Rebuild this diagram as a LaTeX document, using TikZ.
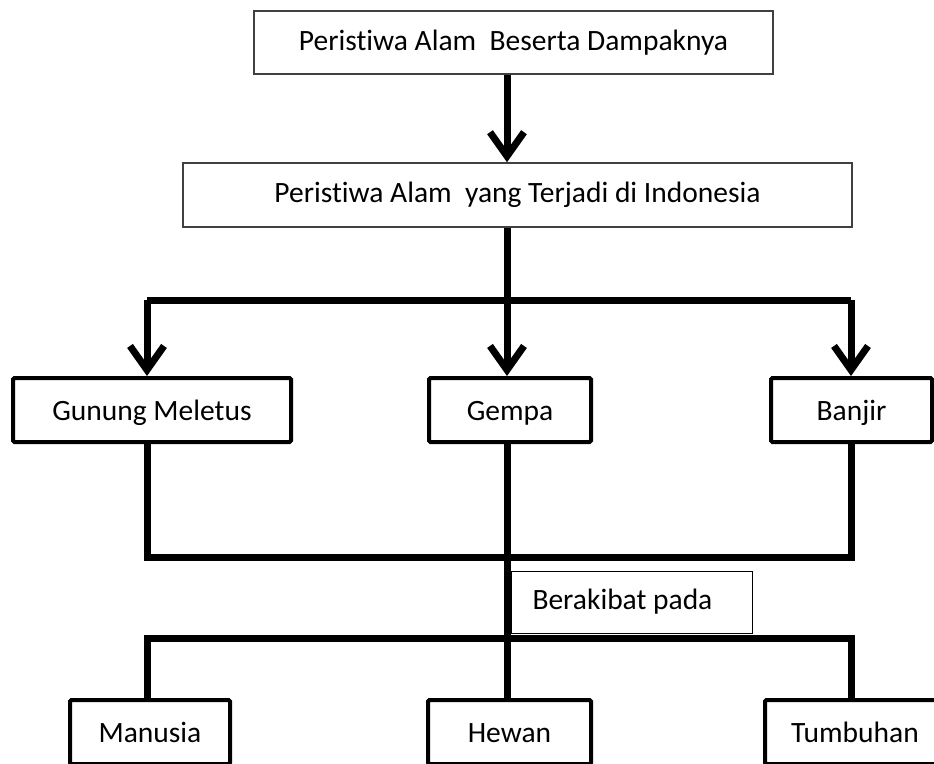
\documentclass[tikz,border=0pt]{standalone}
\usepackage{fontspec}
\setmainfont{Carlito}[Ligatures=NoCommon]
\usetikzlibrary{arrows.meta}

\begin{document}
\begin{tikzpicture}[x=1pt,y=-1pt,
  every node/.style={font=\fontsize{29.5}{34}\selectfont,text height=20pt,text depth=5pt},
  topbox/.style={draw=black!75,line width=1.5pt,fill=white,minimum height=63pt},
  kind/.style={draw,line width=4pt,rounded corners=1.5pt,fill=white,minimum height=64pt,text height=22pt,text depth=2pt},
  note/.style={draw,line width=1pt,fill=white,minimum height=62pt,text depth=6pt},
  conn/.style={line width=7pt},
  tip/.style={-{Straight Barb[length=24pt,width=34pt]}}]
\useasboundingbox (0,0) rectangle (934,763);
\clip (0,0) rectangle (934,763);

% junction points
\coordinate (jl) at (147,300);
\coordinate (jc) at (507,300);
\coordinate (jr) at (851,300);
\coordinate (kl) at (147,557);
\coordinate (kr) at (851,557);
\coordinate (ml) at (147,638);
\coordinate (mr) at (851,638);

\node[topbox,minimum width=519pt] (T) at (513.5,42.5) {Peristiwa Alam~ Beserta Dampaknya};
\node[topbox,minimum width=669pt,minimum height=64pt] (I) at (517.5,195) {Peristiwa Alam~ yang Terjadi di Indonesia};

\node[kind,minimum width=278pt] (G) at (152,410) {Gunung Meletus};
\node[kind,minimum width=162pt] (E) at (510,410) {Gempa};
\node[kind,minimum width=161pt] (B) at (851.5,410) {Banjir};

\node[kind,minimum width=160pt] (M) at (150,732) {Manusia};
\node[kind,minimum width=163pt] (H) at (509.5,732) {Hewan};
\node[kind,minimum width=180pt] (U) at (855,732) {Tumbuhan};

\draw[conn,tip] (jc |- T.south) -- (jc |- I.north);
\draw[conn] (jc |- I.south) -- (jc);
\draw[conn] (jl) -- (jr);
\draw[conn,tip] (jl) -- (jl |- G.north);
\draw[conn,tip] (jc) -- (jc |- E.north);
\draw[conn,tip] (jr) -- (jr |- B.north);

\draw[conn] (kl |- G.south) -- (kl) -- (kr) -- (kr |- B.south);
\draw[conn] (jc |- E.south) -- (jc |- H.north);
\draw[conn] (ml |- M.north) -- (ml) -- (mr) -- (mr |- U.north);

\node[note,inner xsep=21pt,anchor=west] (P) at (511,602) {\makebox[199pt][l]{Berakibat pada}};
\end{tikzpicture}
\end{document}
